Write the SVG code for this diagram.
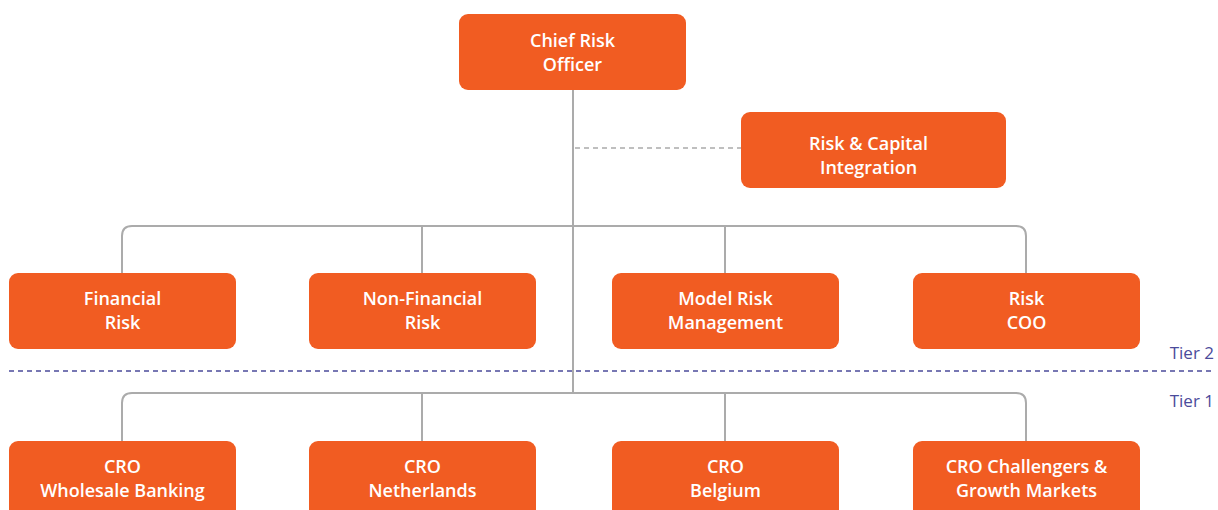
<svg xmlns="http://www.w3.org/2000/svg" width="1218" height="510" viewBox="0 0 1218 510">
<style>
.node rect{fill:#F15C22;}
.node text{fill:#fff;font-family:"Open Sans","Liberation Sans",sans-serif;font-weight:600;font-size:18px;text-anchor:middle;}
.conn{fill:none;stroke:#ababab;stroke-width:2;}
.dash{fill:none;stroke:#ababab;stroke-width:1.5;stroke-dasharray:5 4;}
.tier{fill:none;stroke:#4b4b9b;stroke-width:1.5;stroke-dasharray:5 4;}
.tl{fill:#4b4b9b;font-family:"Open Sans","Liberation Sans",sans-serif;font-size:17px;text-anchor:end;}
</style>
<rect width="1218" height="510" fill="#fff"/>
<g id="connectors">
<path class="conn" d="M573 90 V393"/>
<path class="conn" d="M122 273 V236 Q122 226 132 226 H1016 Q1026 226 1026 236 V273"/>
<path class="conn" d="M422 226 V273 M725 226 V273"/>
<path class="conn" d="M122 441 V403 Q122 393 132 393 H1016 Q1026 393 1026 403 V441"/>
<path class="conn" d="M422 393 V441 M725 393 V441"/>
<path class="dash" d="M575 148 H741"/>
</g>
<g id="tiers">
<path class="tier" d="M9 371 H1213"/>
<text class="tl" x="1214" y="359">Tier 2</text>
<text class="tl" x="1214" y="407">Tier 1</text>
</g>
<g id="cro" class="node"><rect x="459" y="14" width="227" height="76" rx="9"/><text x="572.5" y="47">Chief Risk</text><text x="572.5" y="71">Officer</text></g>
<g id="rci" class="node"><rect x="741" y="112" width="265" height="76" rx="9"/><text x="868.5" y="150">Risk &amp; Capital</text><text x="868.5" y="174">Integration</text></g>
<g id="fin" class="node"><rect x="9" y="273" width="227" height="76" rx="9"/><text x="122.5" y="305">Financial</text><text x="122.5" y="329">Risk</text></g>
<g id="nfr" class="node"><rect x="309" y="273" width="227" height="76" rx="9"/><text x="422.5" y="305">Non-Financial</text><text x="422.5" y="329">Risk</text></g>
<g id="mrm" class="node"><rect x="612" y="273" width="227" height="76" rx="9"/><text x="725.5" y="305">Model Risk</text><text x="725.5" y="329">Management</text></g>
<g id="coo" class="node"><rect x="913" y="273" width="227" height="76" rx="9"/><text x="1026.5" y="305">Risk</text><text x="1026.5" y="329">COO</text></g>
<g id="wb" class="node"><rect x="9" y="441" width="227" height="80" rx="9"/><text x="122.5" y="473">CRO</text><text x="122.5" y="497">Wholesale Banking</text></g>
<g id="nl" class="node"><rect x="309" y="441" width="227" height="80" rx="9"/><text x="422.5" y="473">CRO</text><text x="422.5" y="497">Netherlands</text></g>
<g id="be" class="node"><rect x="612" y="441" width="227" height="80" rx="9"/><text x="725.5" y="473">CRO</text><text x="725.5" y="497">Belgium</text></g>
<g id="cgm" class="node"><rect x="913" y="441" width="227" height="80" rx="9"/><text x="1026.5" y="473">CRO Challengers &amp;</text><text x="1026.5" y="497">Growth Markets</text></g>
</svg>
